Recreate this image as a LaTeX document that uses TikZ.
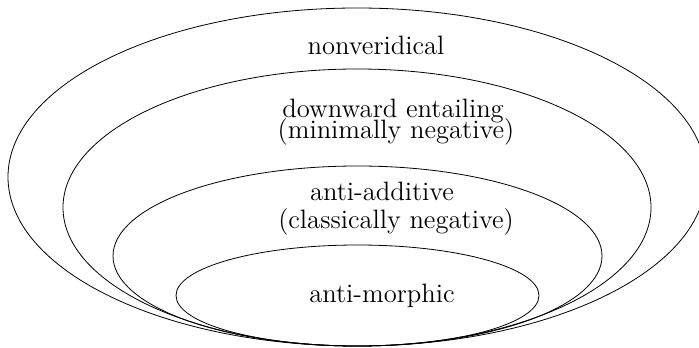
\documentclass[tikz,border=0pt]{standalone}
\begin{document}
\begin{tikzpicture}[x=0.5pt,y=-0.5pt]
	\tikzset{lbl/.style={anchor=base,inner sep=0pt,font=\fontsize{13.3}{16}\selectfont}}
	\useasboundingbox (0,0) rectangle (699,347);
	\clip (0,0) rectangle (699,347);
	% Nested regions, all touching at the bottom
	\draw (357,177) ellipse (349 and 169); % nonveridical
	\draw (357,207.5) ellipse (294 and 138.5); % downward entailing
	\draw (357.5,256) ellipse (244.5 and 90); % anti-additive
	\draw (357.5,295.5) ellipse (181.5 and 50.5); % anti-morphic
	% Labels
	\node[lbl] (nv) at (376,55) {nonveridical};
	\node[lbl] (de) at (393,118) {downward entailing};
	\node[lbl] (mn) at (396,139) {(minimally negative)};
	\node[lbl] (aa) at (382,200) {anti-additive};
	\node[lbl] (cn) at (396,228) {(classically negative)};
	\node[lbl] (am) at (382,302) {anti-morphic};
\end{tikzpicture}
\end{document}
